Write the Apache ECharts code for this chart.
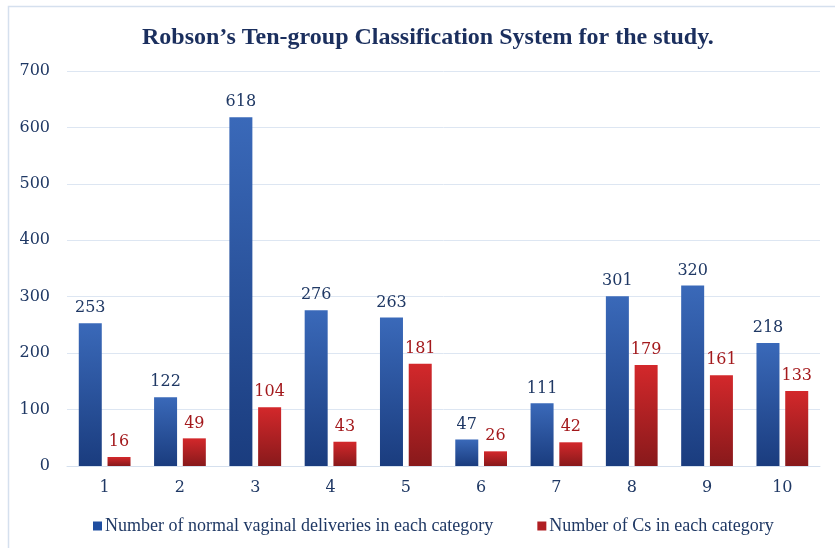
<!DOCTYPE html>
<html><head><meta charset="utf-8">
<script src="https://cdn.jsdelivr.net/npm/echarts@6/dist/echarts.min.js"></script>
<style>html,body{margin:0;padding:0;background:#fff}#c{width:835px;height:548px}</style>
</head><body><div id="c"></div>
<script>
const categories = ['1','2','3','4','5','6','7','8','9','10'];
const normalVaginal = [253,122,618,276,263,47,111,301,320,218];
const cesarean = [16,49,104,43,181,26,42,179,161,133];
const seriesNames = ['Number of normal vaginal deliveries in each category','Number of Cs in each category'];
const titleText = 'Robson\u2019s Ten-group Classification System for the study.';

const serif = '"Liberation Serif","DejaVu Serif",serif';
const numFont = '"DejaVu Serif","Liberation Serif",serif';
const navy = '#1f3864';
const chart = echarts.init(document.getElementById('c'));
const blueGrad = new echarts.graphic.LinearGradient(0,0,0,1,[{offset:0,color:'#3a69b9'},{offset:1,color:'#1a3c7e'}]);
const redGrad = new echarts.graphic.LinearGradient(0,0,0,1,[{offset:0,color:'#d3282b'},{offset:1,color:'#88191b'}]);
chart.setOption({
  animation:false,
  graphic:[{type:'rect',shape:{x:8.5,y:6.5,width:900,height:600},style:{fill:'none',stroke:'#d5e0ee',lineWidth:1.5}}],
  title:{text:titleText,left:142,top:26,padding:0,textStyle:{fontFamily:serif,fontWeight:'bold',fontSize:24,color:'#1b2f5e'}},
  legend:{top:512,left:88,itemGap:44,itemWidth:9,itemHeight:9,icon:'rect',
    textStyle:{fontFamily:serif,fontSize:18,color:navy,padding:[0,0,0,-2]},
    data:[{name:seriesNames[0],itemStyle:{color:'#1f4ea0'}},{name:seriesNames[1],itemStyle:{color:'#b01e22'}}]},
  grid:{left:67,right:15,top:71,bottom:82,containLabel:false},
  xAxis:{type:'category',data:categories,axisTick:{show:false},
    axisLine:{lineStyle:{color:'#d5e0ee'}},
    axisLabel:{fontFamily:numFont,fontSize:16,color:navy,margin:14}},
  yAxis:{type:'value',min:0,max:700,interval:100,
    axisLabel:{fontFamily:numFont,fontSize:16,color:navy,margin:17},
    splitLine:{lineStyle:{color:'#dde6f2'}},axisLine:{show:false},axisTick:{show:false}},
  series:[
    {name:seriesNames[0],type:'bar',data:normalVaginal,barWidth:23,barGap:'25%',
     itemStyle:{color:blueGrad},
     label:{show:true,position:'top',distance:7,fontFamily:numFont,fontSize:16,color:navy}},
    {name:seriesNames[1],type:'bar',data:cesarean,barWidth:23,
     itemStyle:{color:redGrad},
     label:{show:true,position:'top',distance:7,fontFamily:numFont,fontSize:16,color:'#a3191c'}}
  ]
});
</script></body></html>
